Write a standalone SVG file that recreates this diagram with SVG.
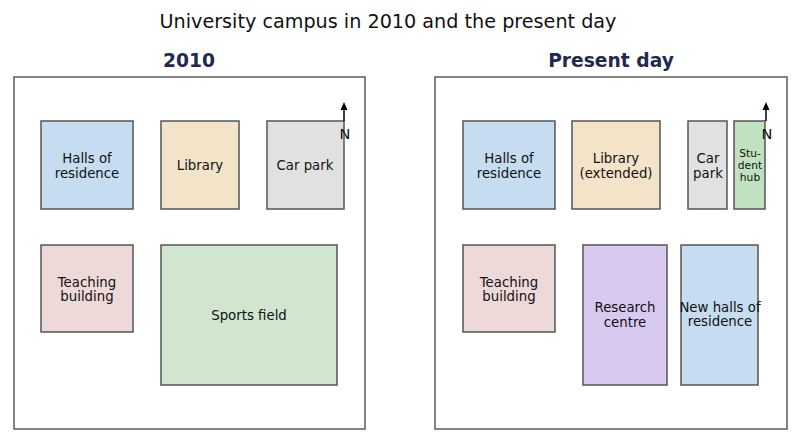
<svg xmlns="http://www.w3.org/2000/svg" width="800" height="443" viewBox="0 0 800 443">
<style>
text{font-family:"DejaVu Sans",sans-serif;fill:#111;text-anchor:middle}
.lbl{font-size:13.3px}
.sm{font-size:10.7px}
.frame{fill:#fff;stroke:#666;stroke-width:1.6}
.b{stroke:#555;stroke-width:1.5}
.sub{font-size:18.7px;font-weight:bold;fill:#1f2a50}
</style>
<defs>
<marker id="ah" markerWidth="8" markerHeight="8" refX="4" refY="4" orient="auto" markerUnits="userSpaceOnUse">
<path d="M0,0.5 L8,4 L0,7.5 Z" fill="#000"/>
</marker>
</defs>
<rect width="800" height="443" fill="#fff"/>
<text x="388" y="28" style="font-size:19.2px">University campus in 2010 and the present day</text>
<text class="sub" x="189" y="67">2010</text>
<text class="sub" x="611" y="67">Present day</text>
<rect class="frame" x="14" y="77" width="351" height="352"/>
<rect class="frame" x="435" y="77" width="352" height="352"/>
<g id="left-halls"><rect class="b" x="41" y="121" width="92" height="88" fill="#c6dcf0"/><text class="lbl" x="87" y="163">Halls of</text><text class="lbl" x="87" y="178">residence</text></g>
<g id="left-library"><rect class="b" x="161" y="121" width="78" height="88" fill="#f3e3c9"/><text class="lbl" x="200" y="170">Library</text></g>
<g id="left-carpark"><rect class="b" x="267" y="121" width="77" height="88" fill="#e1e1e1"/><text class="lbl" x="305" y="170">Car park</text></g>
<g id="left-teaching"><rect class="b" x="41" y="245" width="92" height="87" fill="#eed9d9"/><text class="lbl" x="87" y="287">Teaching</text><text class="lbl" x="87" y="301">building</text></g>
<g id="left-sports"><rect class="b" x="161" y="245" width="176" height="140" fill="#d0e6cf"/><text class="lbl" x="249" y="320">Sports field</text></g>
<g id="right-halls"><rect class="b" x="463" y="121" width="92" height="88" fill="#c6dcf0"/><text class="lbl" x="509" y="163">Halls of</text><text class="lbl" x="509" y="178">residence</text></g>
<g id="right-library"><rect class="b" x="572" y="121" width="88" height="88" fill="#f3e3c9"/><text class="lbl" x="616" y="163">Library</text><text class="lbl" x="616" y="178">(extended)</text></g>
<g id="right-carpark"><rect class="b" x="688" y="121" width="39" height="88" fill="#e1e1e1"/><text class="lbl" x="708" y="163">Car</text><text class="lbl" x="708" y="178">park</text></g>
<g id="right-hub"><rect class="b" x="734" y="121" width="31" height="88" fill="#c0e2c0"/><text class="sm" x="750" y="157">Stu-</text><text class="sm" x="750" y="169">dent</text><text class="sm" x="750" y="181">hub</text></g>
<g id="right-teaching"><rect class="b" x="463" y="245" width="92" height="87" fill="#eed9d9"/><text class="lbl" x="509" y="287">Teaching</text><text class="lbl" x="509" y="301">building</text></g>
<g id="right-research"><rect class="b" x="583" y="245" width="84" height="140" fill="#d8c9f0"/><text class="lbl" x="625" y="312">Research</text><text class="lbl" x="625" y="327">centre</text></g>
<g id="right-newhalls"><rect class="b" x="681" y="245" width="77" height="140" fill="#c6dcf0"/><text class="lbl" x="720" y="312">New halls of</text><text class="lbl" x="720" y="326">residence</text></g>
<g id="connectors">
<line x1="344" y1="121" x2="344" y2="106" stroke="#000" stroke-width="1.5" marker-end="url(#ah)"/>
<line x1="766" y1="121" x2="766" y2="106" stroke="#000" stroke-width="1.5" marker-end="url(#ah)"/>
</g>
<text class="lbl" x="345" y="139" style="font-size:14.5px">N</text>
<text class="lbl" x="767" y="139" style="font-size:14.5px">N</text>
</svg>
